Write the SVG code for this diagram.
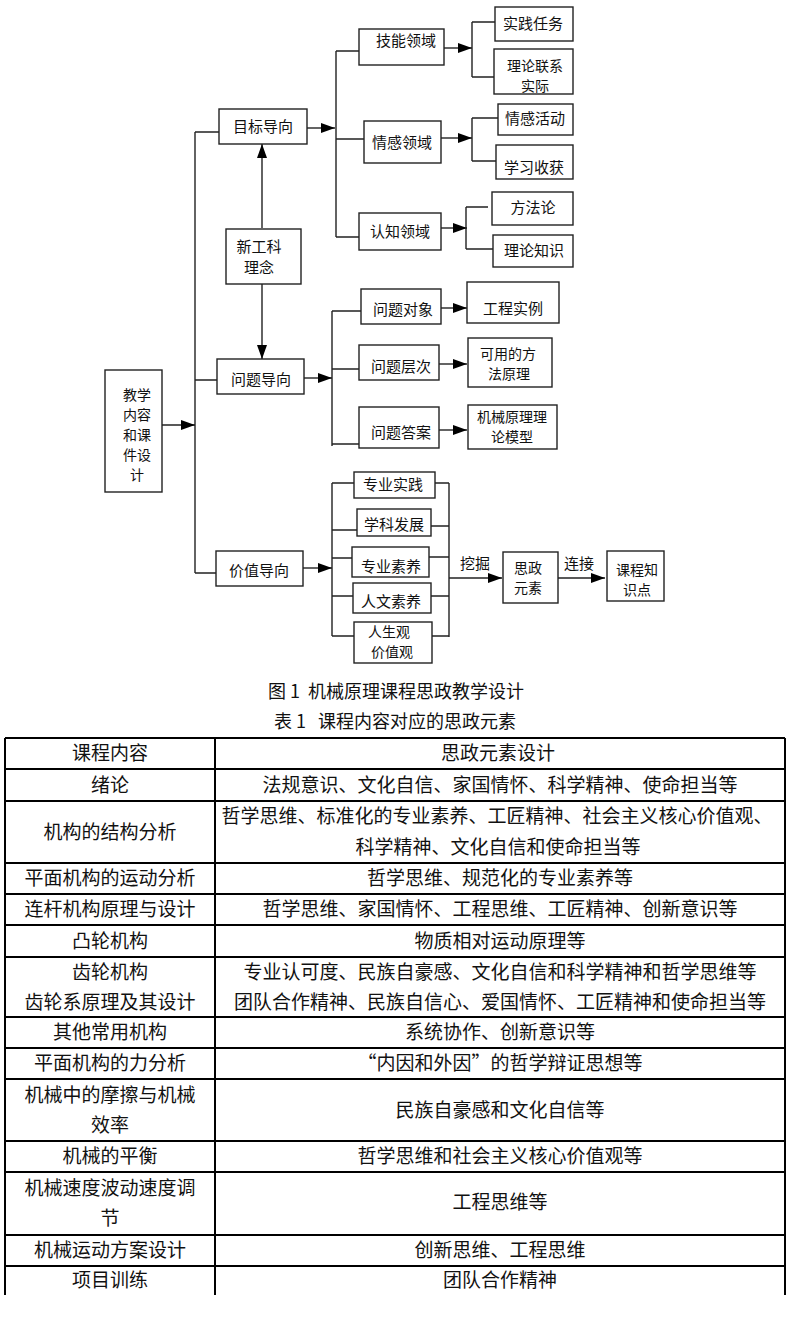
<svg xmlns="http://www.w3.org/2000/svg" width="791" height="1336" viewBox="0 0 791 1336">
<style>
.b{fill:#fff;stroke:#222;stroke-width:1.4}
.l{fill:none;stroke:#222;stroke-width:1.4}
.t{font-family:"Noto Sans CJK SC","Liberation Sans",sans-serif;font-size:15px;fill:#111;text-anchor:middle}
.m{font-size:14px}
.c{font-family:"Noto Sans CJK SC","Liberation Serif",serif;font-size:18px;fill:#111;text-anchor:middle}
.g{font-family:"Noto Sans CJK SC","Liberation Serif",serif;font-size:19px;fill:#111;text-anchor:middle}
.tl{fill:none;stroke:#000;stroke-width:2}
</style>
<defs>
<marker id="a" markerUnits="userSpaceOnUse" markerWidth="14" markerHeight="10" refX="14" refY="5" orient="auto">
<path d="M0,0 L14,5 L0,10 z" fill="#000"/>
</marker>
</defs>
<rect width="791" height="1336" fill="#fff"/>

<g id="connectors">
<path class="l" d="M195,132 V573"/>
<path class="l" d="M195,132 H219 M195,380 H217 M195,573 H216"/>
<path class="l" d="M162,425 H195" marker-end="url(#a)"/>
<path class="l" d="M262,228 V144" marker-end="url(#a)"/>
<path class="l" d="M262,284 V359" marker-end="url(#a)"/>
<path class="l" d="M307,128 H335" marker-end="url(#a)"/>
<path class="l" d="M336,51 V237 M336,51 H359 M336,139 H364 M336,237 H359"/>
<path class="l" d="M444,48 H472" marker-end="url(#a)"/>
<path class="l" d="M472,22 V77 M472,22 H495 M472,77 H494"/>
<path class="l" d="M441,138 H472" marker-end="url(#a)"/>
<path class="l" d="M472,118 V161 M472,118 H498 M472,161 H496"/>
<path class="l" d="M441,228 H467" marker-end="url(#a)"/>
<path class="l" d="M466,207 V249 M466,207 H488 M466,249 H493"/>
<path class="l" d="M304,378 H332" marker-end="url(#a)"/>
<path class="l" d="M332,311 V446 M332,311 H361 M332,369 H359 M332,444 H359"/>
<path class="l" d="M441,308 H467" marker-end="url(#a)"/>
<path class="l" d="M439,364 H467" marker-end="url(#a)"/>
<path class="l" d="M439,430 H467" marker-end="url(#a)"/>
<path class="l" d="M303,568 H332" marker-end="url(#a)"/>
<path class="l" d="M332,483 V636 M332,483 H354 M332,530 H357 M332,558 H352 M332,596 H353 M332,636 H354"/>
<path class="l" d="M449,483 V637 M435,483 H449 M431,526 H449 M429,557 H449 M431,596 H449 M432,636 H449"/>
<path class="l" d="M449,578 H502" marker-end="url(#a)"/>
<path class="l" d="M558,578 H605" marker-end="url(#a)"/>
<text class="t" x="475" y="569">挖掘</text>
<text class="t" x="579" y="569">连接</text>
</g>

<g id="n-jiaoxue"><rect class="b" x="105" y="370" width="57" height="122"/>
<text class="t m" x="137" y="400">教学</text><text class="t m" x="137" y="420">内容</text><text class="t m" x="137" y="440">和课</text><text class="t m" x="137" y="460">件设</text><text class="t m" x="137" y="480">计</text></g>
<g id="n-mubiao"><rect class="b" x="219" y="109" width="88" height="35"/><text class="t" x="263" y="132">目标导向</text></g>
<g id="n-xingongke"><rect class="b" x="226" y="229" width="75" height="55"/><text class="t" x="259" y="252">新工科</text><text class="t" x="259" y="273">理念</text></g>
<g id="n-wenti"><rect class="b" x="217" y="359" width="87" height="35"/><text class="t" x="261" y="385">问题导向</text></g>
<g id="n-jiazhi"><rect class="b" x="216" y="551" width="87" height="35"/><text class="t" x="259" y="576">价值导向</text></g>

<g id="n-jineng"><rect class="b" x="359" y="29" width="85" height="36"/><text class="t" x="406" y="46">技能领域</text></g>
<g id="n-shijian"><rect class="b" x="495" y="7" width="78" height="34"/><text class="t" x="533" y="29">实践任务</text></g>
<g id="n-lilunlianxi"><rect class="b" x="494" y="49" width="79" height="45"/><text class="t m" x="535" y="71">理论联系</text><text class="t m" x="535" y="91">实际</text></g>
<g id="n-qinggan"><rect class="b" x="364" y="121" width="77" height="42"/><text class="t" x="402" y="148">情感领域</text></g>
<g id="n-qinghuo"><rect class="b" x="498" y="104" width="75" height="31"/><text class="t" x="535" y="124">情感活动</text></g>
<g id="n-xuexi"><rect class="b" x="496" y="145" width="77" height="34"/><text class="t" x="534" y="173">学习收获</text></g>
<g id="n-renzhi"><rect class="b" x="359" y="213" width="82" height="37"/><text class="t" x="400" y="237">认知领域</text></g>
<g id="n-fangfa"><rect class="b" x="492" y="192" width="81" height="33"/><text class="t" x="533" y="213">方法论</text></g>
<g id="n-lilunzhishi"><rect class="b" x="493" y="235" width="80" height="32"/><text class="t" x="534" y="256">理论知识</text></g>

<g id="n-duixiang"><rect class="b" x="361" y="289" width="80" height="35"/><text class="t" x="403" y="315">问题对象</text></g>
<g id="n-gongcheng"><rect class="b" x="467" y="282" width="92" height="41"/><text class="t" x="513" y="314">工程实例</text></g>
<g id="n-cengci"><rect class="b" x="359" y="345" width="80" height="35"/><text class="t" x="401" y="372">问题层次</text></g>
<g id="n-keyong"><rect class="b" x="468" y="338" width="84" height="49"/><text class="t m" x="508" y="359">可用的方</text><text class="t m" x="509" y="379">法原理</text></g>
<g id="n-daan"><rect class="b" x="359" y="407" width="80" height="41"/><text class="t" x="401" y="438">问题答案</text></g>
<g id="n-moxing"><rect class="b" x="468" y="405" width="89" height="44"/><text class="t m" x="512" y="422">机械原理理</text><text class="t m" x="512" y="442">论模型</text></g>

<g id="n-zysj"><rect class="b" x="354" y="472" width="81" height="26"/><text class="t" x="393" y="490">专业实践</text></g>
<g id="n-xkfz"><rect class="b" x="357" y="509" width="74" height="27"/><text class="t" x="394" y="530">学科发展</text></g>
<g id="n-zysy"><rect class="b" x="352" y="547" width="77" height="30"/><text class="t" x="391" y="572">专业素养</text></g>
<g id="n-rwsy"><rect class="b" x="353" y="583" width="78" height="30"/><text class="t" x="391" y="607">人文素养</text></g>
<g id="n-rsg"><rect class="b" x="354" y="622" width="78" height="41"/><text class="t m" x="389" y="637">人生观</text><text class="t m" x="392" y="657">价值观</text></g>
<g id="n-szys"><rect class="b" x="503" y="552" width="55" height="51"/><text class="t m" x="528" y="573">思政</text><text class="t m" x="528" y="593">元素</text></g>
<g id="n-kczsd"><rect class="b" x="607" y="551" width="57" height="50"/><text class="t m" x="637" y="575">课程知</text><text class="t m" x="637" y="595">识点</text></g>

<text class="c" x="396" y="698">图&#160;1&#160;&#160;机械原理课程思政教学设计</text>
<text class="c" x="395" y="728">表&#160;1&#160;&#160;&#160;课程内容对应的思政元素</text>

<g id="table">
<path class="tl" d="M5,738 H785 M5,769 H785 M5,801 H785 M5,863 H785 M5,894 H785 M5,925 H785 M5,957 H785 M5,1017 H785 M5,1048 H785 M5,1079 H785 M5,1141 H785 M5,1172 H785 M5,1235 H785 M5,1266 H785"/>
<path class="tl" d="M5,738 V1295 M215,738 V1295 M785,738 V1295"/>
<text class="g" x="110" y="760">课程内容</text><text class="g" x="498" y="760">思政元素设计</text>
<text class="g" x="110" y="792">绪论</text><text class="g" x="500" y="792">法规意识、文化自信、家国情怀、科学精神、使命担当等</text>
<text class="g" x="110" y="839">机构的结构分析</text><text class="g" x="497" y="823">哲学思维、标准化的专业素养、工匠精神、社会主义核心价值观、</text><text class="g" x="498" y="854">科学精神、文化自信和使命担当等</text>
<text class="g" x="110" y="885">平面机构的运动分析</text><text class="g" x="500" y="885">哲学思维、规范化的专业素养等</text>
<text class="g" x="110" y="916">连杆机构原理与设计</text><text class="g" x="500" y="916">哲学思维、家国情怀、工程思维、工匠精神、创新意识等</text>
<text class="g" x="110" y="948">凸轮机构</text><text class="g" x="500" y="948">物质相对运动原理等</text>
<text class="g" x="110" y="979">齿轮机构</text><text class="g" x="500" y="979">专业认可度、民族自豪感、文化自信和科学精神和哲学思维等</text>
<text class="g" x="110" y="1009">齿轮系原理及其设计</text><text class="g" x="500" y="1009">团队合作精神、民族自信心、爱国情怀、工匠精神和使命担当等</text>
<text class="g" x="110" y="1039">其他常用机构</text><text class="g" x="500" y="1039">系统协作、创新意识等</text>
<text class="g" x="110" y="1070">平面机构的力分析</text><text class="g" x="500" y="1070">“内因和外因”的哲学辩证思想等</text>
<text class="g" x="110" y="1102">机械中的摩擦与机械</text><text class="g" x="110" y="1132">效率</text><text class="g" x="500" y="1117">民族自豪感和文化自信等</text>
<text class="g" x="110" y="1163">机械的平衡</text><text class="g" x="500" y="1163">哲学思维和社会主义核心价值观等</text>
<text class="g" x="110" y="1195">机械速度波动速度调</text><text class="g" x="110" y="1225">节</text><text class="g" x="500" y="1209">工程思维等</text>
<text class="g" x="110" y="1257">机械运动方案设计</text><text class="g" x="500" y="1257">创新思维、工程思维</text>
<text class="g" x="110" y="1287">项目训练</text><text class="g" x="500" y="1287">团队合作精神</text>
</g>
</svg>
